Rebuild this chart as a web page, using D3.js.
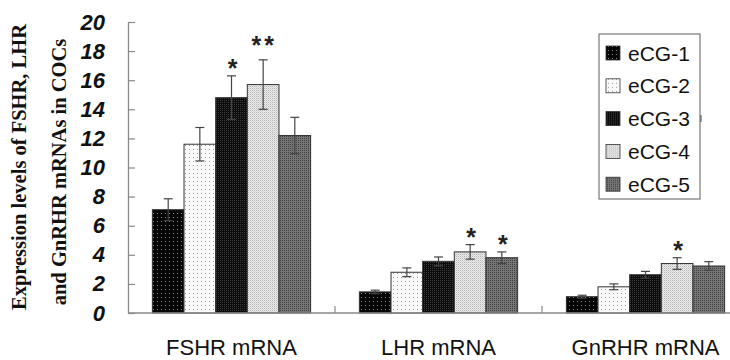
<!DOCTYPE html>
<html>
<head>
<meta charset="utf-8">
<script src="https://cdn.jsdelivr.net/npm/d3@7"></script>
<style>
	body { margin: 0; background: #fff; }
	svg { display: block; }
</style>
</head>
<body>
<svg id="chart"></svg>
<script>
(function(){

	//Chart data
	var categories = ["FSHR mRNA", "LHR mRNA", "GnRHR mRNA"];
	var seriesNames = ["eCG-1", "eCG-2", "eCG-3", "eCG-4", "eCG-5"];
	var ecg1 = [7.1, 1.45, 1.12];
	var ecg2 = [11.6, 2.8, 1.8];
	var ecg3 = [14.8, 3.55, 2.63];
	var ecg4 = [15.7, 4.2, 3.4];
	var ecg5 = [12.2, 3.8, 3.23];
	var err1 = [0.75, 0.12, 0.1];
	var err2 = [1.15, 0.3, 0.2];
	var err3 = [1.5, 0.3, 0.23];
	var err4 = [1.7, 0.5, 0.4];
	var err5 = [1.25, 0.4, 0.3];
	var sig1 = ["", "", ""];
	var sig2 = ["", "", ""];
	var sig3 = ["*", "", ""];
	var sig4 = ["**", "*", "*"];
	var sig5 = ["", "*", ""];
	var yTicks = [0, 2, 4, 6, 8, 10, 12, 14, 16, 18, 20];

	//SVG Configurations
	var svgWidth = 730;
	var svgHeight = 360;
	var left = 128, top = 22, bottom = 313;
	var bandWidth = 207;
	var axisColor = "#8a8a8a";

	var means = [ecg1, ecg2, ecg3, ecg4, ecg5];
	var errs = [err1, err2, err3, err4, err5];
	var sigs = [sig1, sig2, sig3, sig4, sig5];

	var svg = d3.select("#chart")
		.attr("width", svgWidth)
		.attr("height", svgHeight);

	//fill patterns, one per series
	var patternDefs = [
		{id: "p1", size: 4, base: "#060606", dots: [[1, 1, "#8c8c8c"]]},
		{id: "p2", size: 4, base: "#fafafa", dots: [[1, 1, "#9a9a9a"]]},
		{id: "p3", size: 2, base: "#0c0c0c", dots: [[0, 0, "#3c3c3c"]]},
		{id: "p4", size: 2, base: "#ececec", dots: [[0, 0, "#b4b4b4"], [1, 1, "#d4d4d4"]]},
		{id: "p5", size: 2, base: "#767676", dots: [[0, 0, "#404040"]]}
	];
	var defs = svg.append("defs");
	var pat = defs.selectAll("pattern")
		.data(patternDefs)
		.enter()
		.append("pattern")
		.attr("id", function(d){ return d.id; })
		.attr("patternUnits", "userSpaceOnUse")
		.attr("width", function(d){ return d.size; })
		.attr("height", function(d){ return d.size; });
	pat.append("rect")
		.attr("width", function(d){ return d.size; })
		.attr("height", function(d){ return d.size; })
		.attr("fill", function(d){ return d.base; });
	pat.selectAll("rect.dot")
		.data(function(d){ return d.dots; })
		.enter()
		.append("rect")
		.attr("class", "dot")
		.attr("x", function(d){ return d[0]; })
		.attr("y", function(d){ return d[1]; })
		.attr("width", 1)
		.attr("height", 1)
		.attr("fill", function(d){ return d[2]; });

	//Scales
	var x = d3.scaleBand()
		.domain(categories)
		.range([left, left + bandWidth * categories.length])
		.paddingInner(0).paddingOuter(0);
	var xSub = d3.scaleBand()
		.domain(seriesNames)
		.range([0, bandWidth])
		.paddingInner(0)
		.paddingOuter(0.77);
	var y = d3.scaleLinear().domain([0, 20]).range([bottom, top]);

	//flatten into bar records
	var bars = [];
	seriesNames.forEach(function(s, i){
		categories.forEach(function(c, j){
			bars.push({series: s, si: i, cat: c, value: means[i][j], err: errs[i][j], sig: sigs[i][j]});
		});
	});

	//Y axis
	var yAxis = svg.append("g")
		.attr("transform", "translate(" + left + ",0)")
		.call(d3.axisLeft(y).tickValues(yTicks).tickSize(-7).tickPadding(23).tickSizeOuter(0));
	yAxis.select(".domain").attr("stroke", axisColor).attr("stroke-width", 1.3);
	yAxis.selectAll(".tick line").attr("stroke", axisColor).attr("stroke-width", 1.2);
	yAxis.selectAll(".tick text")
		.attr("font-family", "Arial, 'Liberation Sans', sans-serif")
		.attr("font-size", "22px")
		.attr("font-weight", "bold")
		.attr("font-style", "italic")
		.attr("fill", "#111");

	//Bars
	var barG = svg.append("g");
	barG.selectAll("rect")
		.data(bars)
		.enter()
		.append("rect")
		.attr("x", function(d){ return x(d.cat) + xSub(d.series); })
		.attr("y", function(d){ return y(d.value); })
		.attr("width", xSub.bandwidth())
		.attr("height", function(d){ return y(0) - y(d.value); })
		.attr("fill", function(d){ return "url(#p" + (d.si + 1) + ")"; })
		.attr("stroke", "#333")
		.attr("stroke-width", 1);

	//Error bars
	var cap = 4.5;
	var errG = svg.append("g").attr("stroke", "#444").attr("stroke-width", 1.2);
	var eb = errG.selectAll("g")
		.data(bars)
		.enter()
		.append("g")
		.attr("transform", function(d){ return "translate(" + (x(d.cat) + xSub(d.series) + xSub.bandwidth() / 2) + ",0)"; });
	eb.append("line")
		.attr("y1", function(d){ return y(d.value - d.err); })
		.attr("y2", function(d){ return y(d.value + d.err); });
	eb.append("line")
		.attr("x1", -cap).attr("x2", cap)
		.attr("y1", function(d){ return y(d.value + d.err); })
		.attr("y2", function(d){ return y(d.value + d.err); });
	eb.append("line")
		.attr("x1", -cap).attr("x2", cap)
		.attr("y1", function(d){ return y(d.value - d.err); })
		.attr("y2", function(d){ return y(d.value - d.err); });

	//Significance stars
	svg.append("g").selectAll("text")
		.data(bars.filter(function(d){ return d.sig; }))
		.enter()
		.append("text")
		.attr("x", function(d){ return x(d.cat) + xSub(d.series) + xSub.bandwidth() / 2 + 1; })
		.attr("y", function(d){ return y(d.value + d.err) + (d.sig.length > 1 ? -6 : 1); })
		.attr("text-anchor", "middle")
		.attr("font-family", "Arial, 'Liberation Sans', sans-serif")
		.attr("font-size", "25px")
		.attr("font-weight", "bold")
		.attr("letter-spacing", function(d){ return d.sig.length > 1 ? "3px" : "0px"; })
		.attr("fill", "#222")
		.text(function(d){ return d.sig; });

	//X axis
	svg.append("line")
		.attr("x1", left).attr("x2", x.range()[1])
		.attr("y1", bottom).attr("y2", bottom)
		.attr("stroke", axisColor)
		.attr("stroke-width", 1.5);
	svg.append("g").selectAll("line")
		.data(categories.slice(1).concat([null]))
		.enter()
		.append("line")
		.attr("x1", function(d){ return d ? x(d) : x.range()[1]; })
		.attr("x2", function(d){ return d ? x(d) : x.range()[1]; })
		.attr("y1", bottom).attr("y2", bottom - 7)
		.attr("stroke", axisColor)
		.attr("stroke-width", 1.2);

	//Category labels
	svg.append("g").selectAll("text")
		.data(categories)
		.enter()
		.append("text")
		.attr("x", function(d){ return x(d) + bandWidth / 2; })
		.attr("y", 355)
		.attr("text-anchor", "middle")
		.attr("font-family", "Arial, 'Liberation Sans', sans-serif")
		.attr("font-size", "22px")
		.attr("fill", "#111")
		.text(function(d){ return d; });

	//Y title (two lines)
	var titleLines = ["Expression levels of FSHR, LHR", "and GnRHR mRNAs in COCs"];
	svg.append("g").selectAll("text")
		.data(titleLines)
		.enter()
		.append("text")
		.attr("transform", function(d, i){ return "translate(" + (i === 0 ? 26 : 66) + "," + (i === 0 ? 167 : 172) + ") rotate(-90)"; })
		.attr("text-anchor", "middle")
		.attr("font-family", "'Times New Roman', 'Liberation Serif', serif")
		.attr("font-weight", "bold")
		.attr("font-size", "20.5px")
		.attr("fill", "#111")
		.text(function(d){ return d; });

	//Legend
	var legend = svg.append("g").attr("transform", "translate(599,34)");
	legend.append("rect")
		.attr("width", 101).attr("height", 165)
		.attr("fill", "#fff")
		.attr("stroke", "#777")
		.attr("stroke-width", 1.2);
	legend.append("line")
		.attr("x1", 102).attr("x2", 102)
		.attr("y1", 81).attr("y2", 88)
		.attr("stroke", "#444");
	var item = legend.selectAll("g.item")
		.data(seriesNames)
		.enter()
		.append("g")
		.attr("class", "item")
		.attr("transform", function(d, i){ return "translate(0," + (19 + i * 32.8) + ")"; });
	item.append("rect")
		.attr("x", 7).attr("y", -7)
		.attr("width", 14).attr("height", 14)
		.attr("fill", function(d, i){ return "url(#p" + (i + 1) + ")"; })
		.attr("stroke", "#333")
		.attr("stroke-width", 0.8);
	item.append("text")
		.attr("x", 29)
		.attr("y", 7.5)
		.attr("font-family", "Arial, 'Liberation Sans', sans-serif")
		.attr("font-size", "21px")
		.attr("fill", "#111")
		.text(function(d){ return d; });

})();
</script>
</body>
</html>
